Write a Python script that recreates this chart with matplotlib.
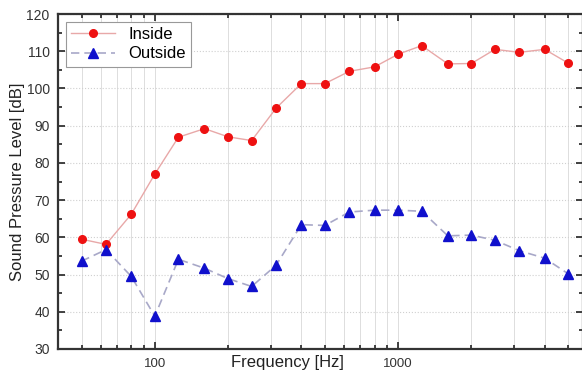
import numpy as np
import matplotlib.pyplot as plt
from matplotlib.ticker import LogLocator, FixedLocator, NullFormatter, MultipleLocator

plt.rcParams['font.family'] = ['Liberation Sans', 'DejaVu Sans']

freq = [50, 63, 80, 100, 125, 160, 200, 250, 315, 400, 500,
        630, 800, 1000, 1250, 1600, 2000, 2500, 3150, 4000, 5000]
inside = [59.5, 58.1, 66.2, 77.0, 86.9, 89.2, 87.0, 86.0, 94.7, 101.3, 101.3,
          104.6, 105.8, 109.2, 111.5, 106.6, 106.7, 110.5, 109.7, 110.5, 106.8]
outside = [53.6, 56.7, 49.5, 38.8, 54.1, 51.7, 48.9, 46.8, 52.5, 63.4, 63.2,
           66.8, 67.3, 67.3, 67.0, 60.4, 60.6, 59.2, 56.4, 54.4, 50.2]

fig = plt.figure(figsize=(5.82, 3.74), dpi=100)
ax = fig.add_axes([58 / 582, 1 - 349 / 374, 525 / 582, 335 / 374])

ax.plot(freq, inside, color='#e8a8a8', lw=1.0, marker='o', ms=5.5,
        mfc='#ee1111', mec='#ee1111', label='Inside', zorder=3)
ax.plot(freq, outside, color='#a8a8c8', lw=1.2, ls=(0, (5, 3)), marker='^', ms=6.5,
        mfc='#1010cc', mec='#1010cc', label='Outside', zorder=3)

ax.set_xscale('log')
ax.set_xlim(40, 5750)
ax.set_ylim(30, 120)
ax.xaxis.set_major_locator(FixedLocator([100, 1000]))
ax.xaxis.set_major_formatter(plt.FuncFormatter(lambda v, p: '%d' % v))
ax.xaxis.set_minor_locator(LogLocator(base=10, subs=np.arange(2, 10)))
ax.xaxis.set_minor_formatter(NullFormatter())
ax.yaxis.set_major_locator(MultipleLocator(10))
ax.yaxis.set_minor_locator(MultipleLocator(5))

ax.tick_params(which='both', direction='in', top=True, right=True,
               colors='#222222', width=1.2)
ax.tick_params(which='major', length=5, labelcolor='#333333')
ax.tick_params(which='minor', length=3)
ax.tick_params(axis='x', which='major', labelsize=9.5, pad=6.5)
ax.tick_params(axis='y', which='major', labelsize=10, pad=6)

ax.grid(True, which='both', axis='x', color='#dddddd', lw=0.7, ls='-')
ax.grid(True, which='major', axis='y', color='#d0d0d0', lw=0.8, ls=':')
ax.set_axisbelow(True)

for sp in ax.spines.values():
    sp.set_linewidth(1.6)
    sp.set_color('#333333')

ax.set_xlabel('Frequency [Hz]', fontsize=12, color='#222222', va='center')
ax.xaxis.set_label_coords(0.437, -13 / 335)
ax.set_ylabel('Sound Pressure Level [dB]', fontsize=12, color='#222222', labelpad=1)

leg = ax.legend(loc='upper left', fontsize=12, fancybox=False, framealpha=1,
                edgecolor='#999999', borderpad=0.3, handlelength=2.6,
                labelspacing=0.25, borderaxespad=0.5)
leg.get_frame().set_linewidth(0.8)

fig.savefig('out.png', dpi=100)
